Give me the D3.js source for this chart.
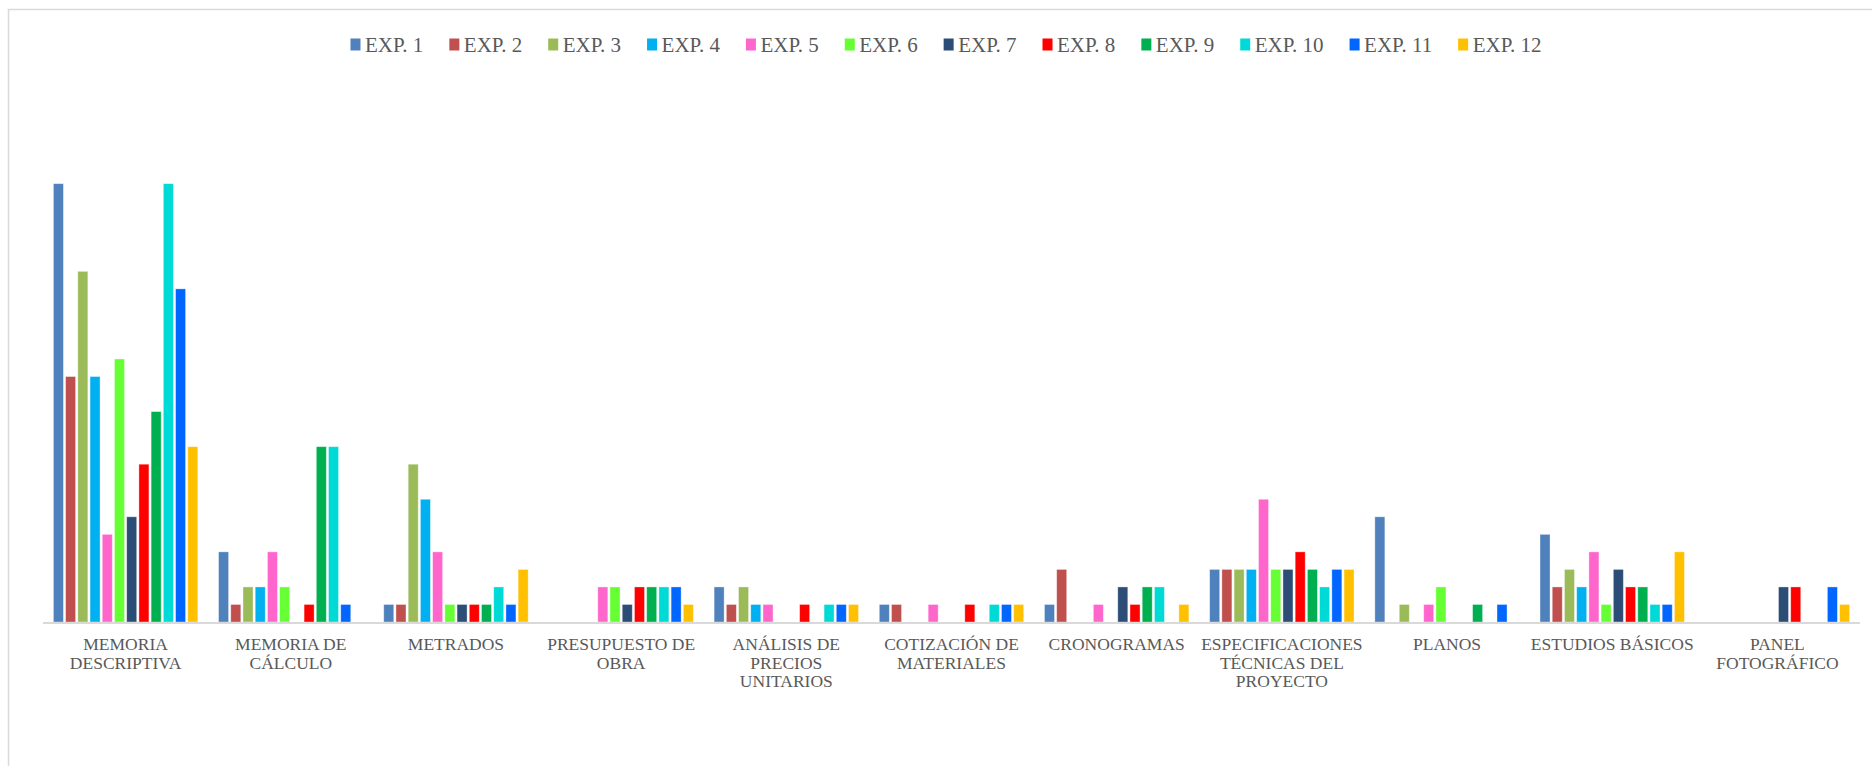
<!DOCTYPE html>
<html>
<head>
<meta charset="utf-8">
<script src="https://cdn.jsdelivr.net/npm/d3@7"></script>
<style>
  html, body { margin: 0; padding: 0; background: #fff; }
  svg { display: block; }
  text { font-family: "Liberation Serif", "Times New Roman", serif; fill: #595959; }
</style>
</head>
<body>
<svg id="chart" width="1872" height="766"></svg>
<script>
// Document sections reviewed in each file (category labels, with line breaks)
const categories = [
  "MEMORIA\nDESCRIPTIVA",
  "MEMORIA DE\nCÁLCULO",
  "METRADOS",
  "PRESUPUESTO DE\nOBRA",
  "ANÁLISIS DE\nPRECIOS\nUNITARIOS",
  "COTIZACIÓN DE\nMATERIALES",
  "CRONOGRAMAS",
  "ESPECIFICACIONES\nTÉCNICAS DEL\nPROYECTO",
  "PLANOS",
  "ESTUDIOS BÁSICOS",
  "PANEL\nFOTOGRÁFICO"
];

const seriesNames = ["EXP. 1", "EXP. 2", "EXP. 3", "EXP. 4", "EXP. 5", "EXP. 6",
                     "EXP. 7", "EXP. 8", "EXP. 9", "EXP. 10", "EXP. 11", "EXP. 12"];

const seriesColors = ["#4F81BD", "#C0504D", "#9BBB59", "#00B0F0", "#FF66CC", "#66FF33",
                      "#2C4D75", "#FF0000", "#00B050", "#00DAD6", "#0066FF", "#FFC000"];

// One array per file: count per section, in category order
const exp1  = [25, 4, 1, 0, 2, 1, 1, 3, 6, 5, 0];
const exp2  = [14, 1, 1, 0, 1, 1, 3, 3, 0, 2, 0];
const exp3  = [20, 2, 9, 0, 2, 0, 0, 3, 1, 3, 0];
const exp4  = [14, 2, 7, 0, 1, 0, 0, 3, 0, 2, 0];
const exp5  = [5, 4, 4, 2, 1, 1, 1, 7, 1, 4, 0];
const exp6  = [15, 2, 1, 2, 0, 0, 0, 3, 2, 1, 0];
const exp7  = [6, 0, 1, 1, 0, 0, 2, 3, 0, 3, 2];
const exp8  = [9, 1, 1, 2, 1, 1, 1, 4, 0, 2, 2];
const exp9  = [12, 10, 1, 2, 0, 0, 2, 3, 1, 2, 0];
const exp10 = [25, 10, 2, 2, 1, 1, 2, 2, 0, 1, 0];
const exp11 = [19, 1, 1, 2, 1, 1, 0, 3, 1, 1, 2];
const exp12 = [10, 0, 3, 1, 1, 1, 1, 3, 0, 4, 1];

const seriesValues = [exp1, exp2, exp3, exp4, exp5, exp6, exp7, exp8, exp9, exp10, exp11, exp12];

const svg = d3.select("#chart");

// Chart frame
svg.append("rect")
  .attr("x", 8.5).attr("y", 9.5)
  .attr("width", 1900).attr("height", 800)
  .attr("fill", "#fff")
  .attr("stroke", "#d9d9d9").attr("stroke-width", 1.5);

const plot = { left: 43, right: 1860, top: 96, bottom: 622 };

const x0 = d3.scaleBand()
  .domain(categories)
  .range([plot.left, plot.right])
  .paddingInner(0).paddingOuter(0);

const x1 = d3.scaleBand()
  .domain(seriesNames)
  .range([0, x0.bandwidth()])
  .paddingInner(0.18)
  .paddingOuter(0.85);

const y = d3.scaleLinear()
  .domain([0, 30])
  .range([plot.bottom, plot.top]);

// Bars
const groups = svg.append("g").selectAll("g")
  .data(categories)
  .join("g")
  .attr("transform", d => `translate(${x0(d)},0)`);

groups.selectAll("rect")
  .data((c, ci) => seriesNames.map((s, si) => ({ s, si, v: seriesValues[si][ci] })))
  .join("rect")
  .filter(d => d.v > 0)
  .attr("x", d => x1(d.s))
  .attr("width", x1.bandwidth())
  .attr("y", d => y(d.v))
  .attr("height", d => y(0) - y(d.v))
  .attr("fill", d => seriesColors[d.si])
  .attr("stroke", "rgba(255,255,255,0.45)")
  .attr("stroke-width", 0.8);

// Category axis
const xAxis = svg.append("g")
  .attr("transform", `translate(0,${plot.bottom})`)
  .call(d3.axisBottom(x0).tickSize(0).tickFormat(""));
xAxis.select(".domain").attr("stroke", "#d9d9d9").attr("stroke-width", 2)
  .attr("d", `M${plot.left},1V1H${plot.right}`);

xAxis.selectAll(".tick").each(function(d) {
  const t = d3.select(this).append("text")
    .attr("text-anchor", "middle")
    .style("font-size", "17.5px")
    .style("fill", "#595959");
  d.split("\n").forEach((line, i) => {
    t.append("tspan").attr("x", 0).attr("y", 28 + i * 18.5).text(line);
  });
});

// Legend
const legendGap = 26;
const legend = svg.append("g");
let cursor = 0;
seriesNames.forEach((name, i) => {
  const item = legend.append("g").attr("transform", `translate(${cursor},0)`);
  item.append("rect")
    .attr("x", 0).attr("y", 38.5)
    .attr("width", 10).attr("height", 12)
    .attr("fill", seriesColors[i]);
  const txt = item.append("text")
    .attr("x", 14.5).attr("y", 51.5)
    .style("font-size", "21px")
    .text(name);
  cursor += 14.5 + txt.node().getComputedTextLength() + legendGap;
});
const legendWidth = cursor - legendGap;
legend.attr("transform", `translate(${946 - legendWidth / 2},0)`);
</script>
</body>
</html>
